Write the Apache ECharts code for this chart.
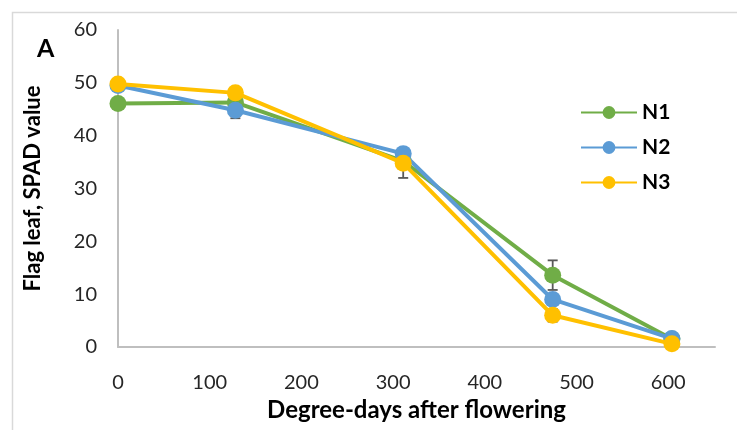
<!DOCTYPE html>
<html>
<head>
<meta charset="utf-8">
<script src="https://cdn.jsdelivr.net/npm/echarts@6/dist/echarts.min.js"></script>
<style>html,body{margin:0;padding:0;background:#fff;}#c{width:737px;height:430px;}</style>
</head>
<body>
<div id="c"></div>
<script>
var xValues = [0, 128, 311, 474, 604];
var n1 = [46.1, 46.3, 35.2, 13.6, 1.5];
var n2 = [49.5, 44.8, 36.6, 9.0, 1.6];
var n3 = [49.8, 48.1, 34.8, 6.0, 0.6];
var n1Err = [0, 0, 0, 2.8, 0];
var n2Err = [0, 1.5, 0, 0, 1.0];
var n3Err = [0, 0, 2.8, 1.2, 0];
var seriesNames = ['N1', 'N2', 'N3'];
var xTicks = [0, 100, 200, 300, 400, 500, 600];
var yTicks = [0, 10, 20, 30, 40, 50, 60];
var colors = ['#70AD47', '#5B9BD5', '#FFC000'];
var FONT = 'Lato';

function pairs(vals) { return xValues.map(function (x, i) { return [x, vals[i]]; }); }
function errData(vals, errs) {
  var out = [];
  xValues.forEach(function (x, i) { if (errs[i] > 0) out.push([x, vals[i] - errs[i], vals[i] + errs[i]]); });
  return out;
}
function errSeries(vals, errs) {
  return {
    type: 'custom', z: 1, silent: true,
    data: errData(vals, errs),
    renderItem: function (params, api) {
      var x = api.value(0);
      var lo = api.coord([x, api.value(1)]);
      var hi = api.coord([x, api.value(2)]);
      var w = 5;
      var st = { stroke: '#595959', lineWidth: 1.8 };
      return { type: 'group', children: [
        { type: 'line', shape: { x1: lo[0], y1: lo[1], x2: hi[0], y2: hi[1] }, style: st },
        { type: 'line', shape: { x1: lo[0] - w, y1: lo[1], x2: lo[0] + w, y2: lo[1] }, style: st },
        { type: 'line', shape: { x1: hi[0] - w, y1: hi[1], x2: hi[0] + w, y2: hi[1] }, style: st }
      ]};
    }
  };
}
var all = [n1, n2, n3];
var errs = [n1Err, n2Err, n3Err];
var series = [];
all.forEach(function (vals, k) {
  series.push(errSeries(vals, errs[k]));
});
all.forEach(function (vals, k) {
  series.push({
    name: seriesNames[k], type: 'line', data: pairs(vals), z: 2 + k,
    symbol: 'circle', symbolSize: 17,
    lineStyle: { color: colors[k], width: 4 },
    itemStyle: { color: colors[k] },
    emphasis: { disabled: true }
  });
});

var chart = echarts.init(document.getElementById('c'), null, { renderer: 'canvas' });
chart.setOption({
  animation: false,
  backgroundColor: '#fff',
  grid: { left: 118, right: 22, top: 30, bottom: 83, containLabel: false, outerBoundsMode: 'none' },
  xAxis: {
    type: 'value', min: xTicks[0], max: 651, interval: 100,
    axisLine: { show: true, lineStyle: { color: '#BFBFBF', width: 2 } },
    axisTick: { show: false }, splitLine: { show: false },
    axisLabel: {
      margin: 26, fontSize: 20, color: '#262626', fontFamily: FONT,
      formatter: function (v) { return xTicks.indexOf(v) >= 0 ? String(v) : ''; }
    },
    name: 'Degree-days after flowering', nameLocation: 'middle', nameGap: 51,
    nameTextStyle: { fontSize: 24, fontWeight: 'bold', color: '#000', fontFamily: FONT }
  },
  yAxis: {
    type: 'value', min: yTicks[0], max: yTicks[yTicks.length - 1], interval: 10,
    axisLine: { show: true, lineStyle: { color: '#BFBFBF', width: 2 } },
    axisTick: { show: false }, splitLine: { show: false },
    axisLabel: { margin: 21, fontSize: 20, color: '#262626', fontFamily: FONT },
    name: 'Flag leaf, SPAD value', nameLocation: 'middle', nameGap: 74, nameRotate: 90,
    nameTextStyle: { fontSize: 22, fontWeight: 'bold', color: '#000', fontFamily: FONT }
  },
  legend: {
    orient: 'vertical', left: 575, top: 97, itemWidth: 56, itemHeight: 16, itemGap: 14,
    data: seriesNames,
    textStyle: { fontSize: 21, fontWeight: 'bold', color: '#000', fontFamily: FONT },
    selectedMode: false
  },
  graphic: [
    { type: 'rect', left: 10, top: 10, shape: { width: 760, height: 460 }, style: { fill: 'none', stroke: '#D9D9D9', lineWidth: 1.5 }, silent: true, z: -10 },
    { type: 'text', left: 37, top: 36, style: { text: 'A', fontSize: 25, fontWeight: 'bold', fill: '#000', fontFamily: FONT } }
  ],
  series: series
});
</script>
</body>
</html>
